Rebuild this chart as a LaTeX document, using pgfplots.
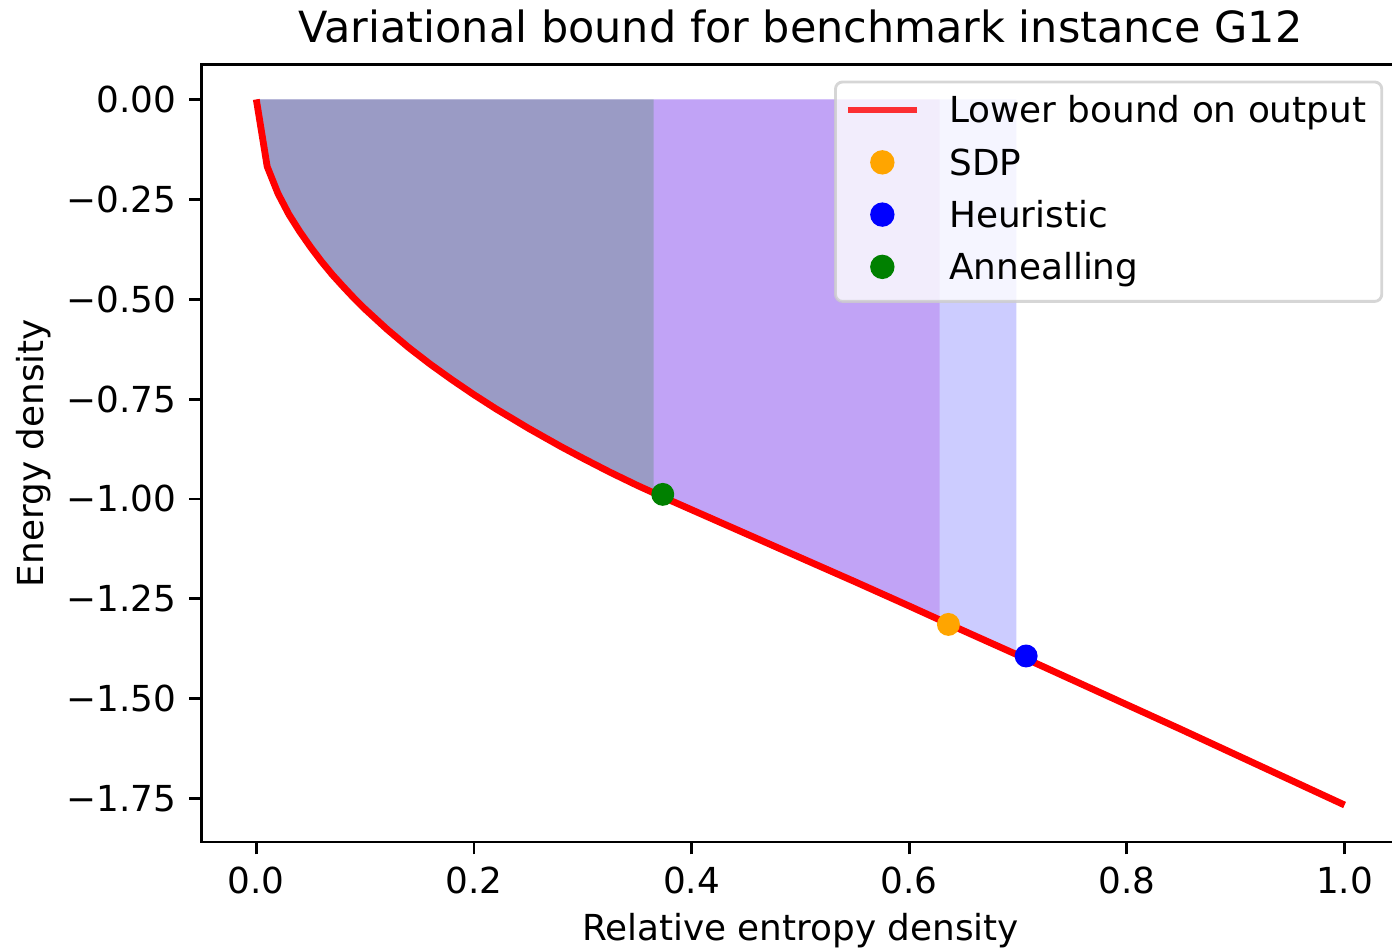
\documentclass[border=0pt]{standalone}
\usepackage{pgfplots}
\pgfplotsset{compat=1.18}
\usepackage{fontspec}
\setmainfont{DejaVu Sans}
\definecolor{mplorange}{RGB}{255,165,0}
\definecolor{mplgreen}{RGB}{0,128,0}
\definecolor{dviolet}{RGB}{148,0,211}
\definecolor{legedge}{RGB}{204,204,204}
\pgfplotstableread{
x y
0 0
0.01 -0.168
0.02 -0.236
0.03 -0.288
0.04 -0.331
0.05 -0.370
0.06 -0.406
0.07 -0.439
0.08 -0.469
0.09 -0.498
0.10 -0.525
0.12 -0.575
0.14 -0.621
0.16 -0.663
0.18 -0.702
0.20 -0.739
0.22 -0.774
0.25 -0.823
0.28 -0.869
0.30 -0.898
0.325 -0.933
0.35 -0.966
0.375 -0.997
0.40 -1.027
0.45 -1.087
0.50 -1.147
0.55 -1.207
0.60 -1.268
0.65 -1.330
0.70 -1.391
0.75 -1.453
0.80 -1.515
0.85 -1.577
0.90 -1.640
0.95 -1.703
1.00 -1.766
}\curve
\begin{document}
\begin{tikzpicture}
\begin{axis}[
  scale only axis,
  width=334.4pt, height=217.3pt,
  xmin=-0.05, xmax=1.05, ymin=-1.8585, ymax=0.0885,
  xtick={0,0.2,0.4,0.6,0.8,1},
  xticklabels={0.0,0.2,0.4,0.6,0.8,1.0},
  ytick={0,-0.25,-0.5,-0.75,-1,-1.25,-1.5,-1.75},
  yticklabels={0.00,−0.25,−0.50,−0.75,−1.00,−1.25,−1.50,−1.75},
  /pgf/number format/assume math mode=true,
  tick align=outside, tick pos=left,
  major tick length=3.5pt,
  tick style={black, line width=0.8pt},
  axis line style={line width=0.8pt},
  tick label style={font=\fontsize{10}{12}\selectfont},
  xticklabel style={inner sep=0pt},
  yticklabel style={inner sep=0pt},
  xticklabel shift=3.2pt,
  yticklabel shift=3.5pt,
  every axis x label/.style={at={(axis description cs:0.5,-0.1144)}, anchor=center, font=\fontsize{10}{12}\selectfont},
  every axis y label/.style={at={(axis description cs:-0.1402,0.5)}, anchor=center, rotate=90, font=\fontsize{10}{12}\selectfont},
  every axis title/.style={at={(axis description cs:0.5,1)}, anchor=base, yshift=5.9pt, font=\fontsize{12}{14}\selectfont},
  xlabel={Relative entropy density},
  ylabel={Energy density},
  title={Variational bound for benchmark instance G12},
  legend image code/.code={\draw[mark repeat=2,mark phase=2,#1] plot coordinates {(0pt,0.9pt) (9.65pt,0.9pt) (19.3pt,0.9pt)};},
  legend cell align=left,
  legend style={at={(1,1)}, anchor=north east, xshift=-4.4pt, yshift=-4.6pt,
    fill=white, fill opacity=0.8, draw=legedge, draw opacity=0.8, text opacity=1,
    line width=0.8pt, rounded corners=2pt, inner xsep=2.5pt, inner ysep=1.45pt,
    nodes={inner sep=0pt, text height=10pt, text depth=4.6pt}, column sep=8.1pt, row sep=0pt,
    font=\fontsize{10}{12}\selectfont},
]
\addlegendimage{red, line width=1.9pt}
\addlegendentry{Lower bound on output\hspace*{1.9pt}}
\addlegendimage{only marks, mark=*, mark size=3pt, color=mplorange, mark options={fill opacity=1, draw opacity=1}}
\addlegendentry{SDP}
\addlegendimage{only marks, mark=*, mark size=3pt, color=blue, mark options={fill opacity=1, draw opacity=1}}
\addlegendentry{Heuristic}
\addlegendimage{only marks, mark=*, mark size=3pt, color=mplgreen, mark options={fill opacity=1, draw opacity=1}}
\addlegendentry{Annealling}
% SDP point (below the fills)
\addplot[only marks, mark=*, mark size=3pt, color=mplorange, forget plot] coordinates {(0.636,-1.314)};
% fills
\addplot[draw=none, fill=blue, fill opacity=0.2, forget plot] coordinates {
(0,0) (0.01,-0.168) (0.02,-0.236) (0.03,-0.288) (0.04,-0.331) (0.05,-0.370) (0.06,-0.406) (0.07,-0.439) (0.08,-0.469) (0.09,-0.498) (0.10,-0.525) (0.12,-0.575) (0.14,-0.621) (0.16,-0.663) (0.18,-0.702) (0.20,-0.739) (0.22,-0.774) (0.25,-0.823) (0.28,-0.869) (0.30,-0.898) (0.325,-0.933) (0.35,-0.966) (0.375,-0.997) (0.40,-1.027) (0.45,-1.087) (0.50,-1.147) (0.55,-1.207) (0.60,-1.268) (0.65,-1.330) (0.6985,-1.389) (0.6985,0)};
\addplot[draw=none, fill=dviolet, fill opacity=0.2, forget plot] coordinates {
(0,0) (0.01,-0.168) (0.02,-0.236) (0.03,-0.288) (0.04,-0.331) (0.05,-0.370) (0.06,-0.406) (0.07,-0.439) (0.08,-0.469) (0.09,-0.498) (0.10,-0.525) (0.12,-0.575) (0.14,-0.621) (0.16,-0.663) (0.18,-0.702) (0.20,-0.739) (0.22,-0.774) (0.25,-0.823) (0.28,-0.869) (0.30,-0.898) (0.325,-0.933) (0.35,-0.966) (0.375,-0.997) (0.40,-1.027) (0.45,-1.087) (0.50,-1.147) (0.55,-1.207) (0.60,-1.268) (0.628,-1.3027) (0.628,0)};
\addplot[draw=none, fill=mplgreen, fill opacity=0.2, forget plot] coordinates {
(0,0) (0.01,-0.168) (0.02,-0.236) (0.03,-0.288) (0.04,-0.331) (0.05,-0.370) (0.06,-0.406) (0.07,-0.439) (0.08,-0.469) (0.09,-0.498) (0.10,-0.525) (0.12,-0.575) (0.14,-0.621) (0.16,-0.663) (0.18,-0.702) (0.20,-0.739) (0.22,-0.774) (0.25,-0.823) (0.28,-0.869) (0.30,-0.898) (0.325,-0.933) (0.35,-0.966) (0.365,-0.985) (0.365,0)};
% other points
\addplot[only marks, mark=*, mark size=3pt, color=blue, forget plot] coordinates {(0.7074,-1.393)};
\addplot[only marks, mark=*, mark size=3pt, color=mplgreen, forget plot] coordinates {(0.3735,-0.9885)};
% curve
\addplot[red, line width=1.9pt, forget plot] table[x=x, y=y] {\curve};
\end{axis}
\pgfresetboundingbox
\path ([xshift=-56.4pt, yshift=-30.2pt]current axis.south west) rectangle ([xshift=-1.95pt, yshift=17.9pt]current axis.north east);
\end{tikzpicture}
\end{document}
